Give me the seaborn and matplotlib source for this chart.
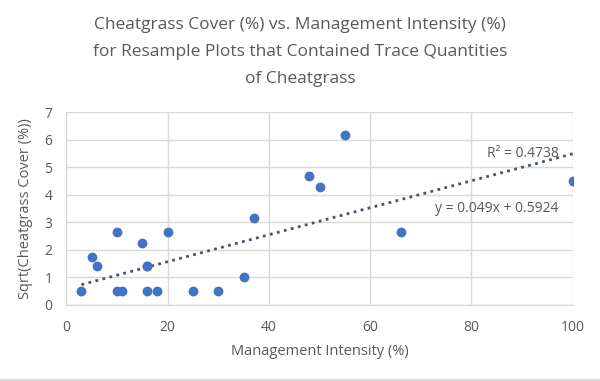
import numpy as np
import pandas as pd
import matplotlib
matplotlib.use("Agg")
import matplotlib.pyplot as plt
import seaborn as sns
from matplotlib.lines import Line2D

# Data
mgmt_intensity = [3, 5, 6, 10, 10, 11, 15, 16, 16, 16, 18, 20, 25, 30, 35, 37, 48, 50, 55, 66, 100]
sqrt_cover = [0.5, 1.73, 1.41, 2.65, 0.5, 0.5, 2.24, 1.41, 1.41, 0.5, 0.5, 2.65, 0.5, 0.5, 1.0, 3.16, 4.69, 4.27, 6.18, 2.65, 4.5]

trend_slope = 0.049
trend_intercept = 0.5924
trend_r2 = 0.4738
trend_x = [3, 100]
trend_y = [trend_slope * x + trend_intercept for x in trend_x]

x_ticks = [0, 20, 40, 60, 80, 100]
y_ticks = [0, 1, 2, 3, 4, 5, 6, 7]

title_lines = ["Cheatgrass Cover (%) vs. Management Intensity (%)",
               "for Resample Plots that Contained Trace Quantities",
               "of Cheatgrass"]
x_label = "Management Intensity (%)"
y_label = "Sqrt(Cheatgrass Cover (%))"

sns.set_theme(style="white")
plt.rcParams['font.family'] = ['Open Sans', 'DejaVu Sans']

text_color = "#595959"
grid_color = "#d9d9d9"
point_color = "#4472C4"
trend_color = "#44546A"

fig = plt.figure(figsize=(6.0, 3.81), dpi=100)
H = 381.0
ax = fig.add_axes([0.1105, 1 - 305 / H, 0.8440, (305 - 112.3) / H])

df = pd.DataFrame({"x": mgmt_intensity, "y": sqrt_cover})
tdf = pd.DataFrame({"x": trend_x, "y": trend_y})

sns.lineplot(data=tdf, x="x", y="y", ax=ax, color=trend_color, linestyle=(0, (1, 1.6)),
             linewidth=2.0, zorder=2)
sns.scatterplot(data=df, x="x", y="y", ax=ax, color=point_color, s=50,
                edgecolor=point_color, linewidth=0, zorder=3)

ax.set_xlim(0, 100)
ax.set_ylim(0, 7)
ax.set_xticks(x_ticks)
ax.set_yticks(y_ticks)
ax.grid(True, color=grid_color, linewidth=1.0)
ax.set_axisbelow(True)
for s in ["top", "right", "left"]:
    ax.spines[s].set_visible(False)
ax.spines["bottom"].set_color(grid_color)
ax.spines["bottom"].set_linewidth(1.0)
ax.tick_params(axis="x", colors=text_color, labelsize=10, length=0, pad=11)
ax.tick_params(axis="y", colors=text_color, labelsize=10, length=0, pad=10)

ax.set_xlabel(x_label, color=text_color, fontsize=10.5, labelpad=6)
ax.set_ylabel(y_label, color=text_color, fontsize=10.5, labelpad=8)

for i, line in enumerate(title_lines):
    fig.text(0.5, 1 - (25 + 27 * i) / H, line, ha="center", va="center",
             color=text_color, fontsize=12.5)

ax.text(97.2, 5.49, f"R² = {trend_r2}", ha="right", va="center",
        color=text_color, fontsize=10)
ax.text(97.2, 3.49, f"y = {trend_slope}x + {trend_intercept}", ha="right", va="center",
        color=text_color, fontsize=10)

# bottom border line of the chart area
fig.add_artist(Line2D([0, 1], [0.003, 0.003], transform=fig.transFigure,
                      color=grid_color, linewidth=1.5))

fig.savefig("out.png", dpi=100)
